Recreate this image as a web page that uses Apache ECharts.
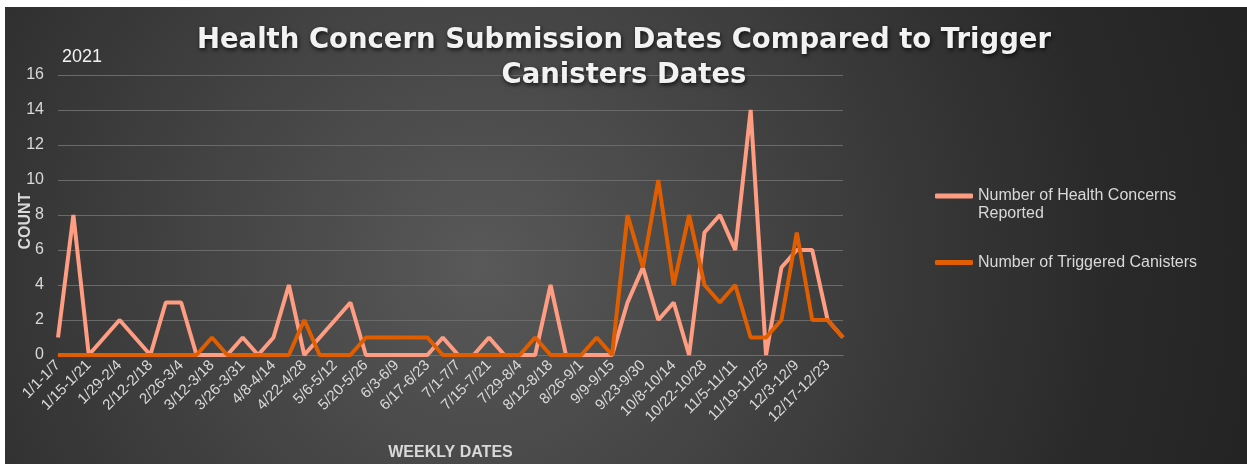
<!DOCTYPE html>
<html>
<head>
<meta charset="utf-8">
<script src="https://cdn.jsdelivr.net/npm/echarts@6/dist/echarts.min.js"></script>
<style>
  html, body { margin: 0; padding: 0; background: #fff; }
  #chart {
    position: absolute;
    left: 5px;
    top: 7px;
    width: 1242px;
    height: 457px;
    background: radial-gradient(circle at 475px 260px, #595959 0px, #4e4e4e 140px, #424242 300px, #353535 470px, #292929 640px, #232323 820px);
  }
</style>
</head>
<body>
<div id="chart"></div>
<script>
const weeks = [
  '1/1-1/7', '1/8-1/14', '1/15-1/21', '1/22-1/28', '1/29-2/4', '2/5-2/11',
  '2/12-2/18', '2/19-2/25', '2/26-3/4', '3/5-3/11', '3/12-3/18', '3/19-3/25',
  '3/26-3/31', '4/1-4/7', '4/8-4/14', '4/15-4/21', '4/22-4/28', '4/29-5/5',
  '5/6-5/12', '5/13-5/19', '5/20-5/26', '5/27-6/2', '6/3-6/9', '6/10-6/16',
  '6/17-6/23', '6/24-6/30', '7/1-7/7', '7/8-7/14', '7/15-7/21', '7/22-7/28',
  '7/29-8/4', '8/5-8/11', '8/12-8/18', '8/19-8/25', '8/26-9/1', '9/2-9/8',
  '9/9-9/15', '9/16-9/22', '9/23-9/30', '10/1-10/7', '10/8-10/14', '10/15-10/21',
  '10/22-10/28', '10/29-11/4', '11/5-11/11', '11/12-11/18', '11/19-11/25', '11/26-12/2',
  '12/3-12/9', '12/10-12/16', '12/17-12/23', '12/24-12/31'
];

const healthConcerns = [
  1, 8, 0, 1, 2, 1, 0, 3, 3, 0,
  0, 0, 1, 0, 1, 4, 0, 1, 2, 3,
  0, 0, 0, 0, 0, 1, 0, 0, 1, 0,
  0, 0, 4, 0, 0, 0, 0, 3, 5, 2,
  3, 0, 7, 8, 6, 14, 0, 5, 6, 6,
  2, 1
];

const triggeredCanisters = [
  0, 0, 0, 0, 0, 0, 0, 0, 0, 0,
  1, 0, 0, 0, 0, 0, 2, 0, 0, 0,
  1, 1, 1, 1, 1, 0, 0, 0, 0, 0,
  0, 1, 0, 0, 0, 1, 0, 8, 5, 10,
  4, 8, 4, 3, 4, 1, 1, 2, 7, 2,
  2, 1
];

const healthName = 'Number of Health Concerns Reported';
const triggerName = 'Number of Triggered Canisters';

const baseFont = '"Liberation Sans", Arial, sans-serif';
const labelColor = '#d9d9d9';

const chart = echarts.init(document.getElementById('chart'));
chart.setOption({
  backgroundColor: 'transparent',
  textStyle: { fontFamily: baseFont },
  title: [
    {
      text: 'Health Concern Submission Dates Compared to Trigger\nCanisters Dates',
      left: 619,
      top: 16,
      padding: 0,
      textAlign: 'center',
      textStyle: {
        fontFamily: '"DejaVu Sans", sans-serif',
        fontSize: 27.5,
        fontWeight: 'bold',
        lineHeight: 35,
        color: '#f2f2f2',
        textShadowColor: 'rgba(0,0,0,0.75)',
        textShadowBlur: 4,
        textShadowOffsetX: 1,
        textShadowOffsetY: 2
      }
    },
    {
      text: '2021',
      left: 57,
      top: 41,
      padding: 0,
      textStyle: {
        fontFamily: baseFont,
        fontSize: 18,
        fontWeight: 'normal',
        color: '#f2f2f2'
      }
    }
  ],
  legend: [
    {
      data: [healthName],
      left: 930,
      top: 162,
      padding: 0,
      itemWidth: 38,
      itemHeight: 5,
      icon: 'roundRect',
      // leading blank line keeps the first text line level with the icon
      formatter: () => '\nNumber of Health Concerns\nReported',
      textStyle: {
        color: labelColor,
        fontSize: 16,
        lineHeight: 18
      }
    },
    {
      data: [triggerName],
      left: 930,
      top: 247,
      padding: 0,
      itemWidth: 38,
      itemHeight: 5,
      icon: 'roundRect',
      textStyle: {
        color: labelColor,
        fontSize: 16,
        lineHeight: 17
      }
    }
  ],
  grid: { left: 53, right: 404, top: 68, bottom: 109, outerBoundsMode: 'none', containLabel: false },
  xAxis: {
    type: 'category',
    data: weeks,
    boundaryGap: false,
    name: 'WEEKLY DATES',
    nameLocation: 'middle',
    nameGap: 90,
    nameMoveOverlap: false,
    nameTextStyle: { color: labelColor, fontSize: 16, fontWeight: 'bold' },
    axisLine: { lineStyle: { color: '#6e6e6e', width: 1 } },
    axisTick: { show: false },
    axisLabel: {
      interval: 1,
      rotate: 45,
      margin: 8,
      color: labelColor,
      fontSize: 15
    },
    splitLine: { show: false }
  },
  yAxis: {
    type: 'value',
    min: 0,
    max: 16,
    interval: 2,
    name: 'COUNT',
    nameLocation: 'middle',
    nameGap: 24,
    nameMoveOverlap: false,
    nameTextStyle: {
      color: labelColor,
      fontSize: 16,
      fontWeight: 'bold',
      padding: [0, 12, 0, 0]
    },
    axisLine: { show: false },
    axisTick: { show: false },
    axisLabel: { color: labelColor, fontSize: 16, margin: 14 },
    splitLine: { lineStyle: { color: '#6a6a6a', width: 1 } }
  },
  series: [
    {
      name: healthName,
      type: 'line',
      data: healthConcerns,
      symbol: 'none',
      color: '#ff9d82',
      lineStyle: { width: 4, color: '#ff9d82' }
    },
    {
      name: triggerName,
      type: 'line',
      data: triggeredCanisters,
      symbol: 'none',
      color: '#e05e00',
      lineStyle: { width: 4, color: '#e05e00' }
    }
  ]
});
</script>
</body>
</html>
